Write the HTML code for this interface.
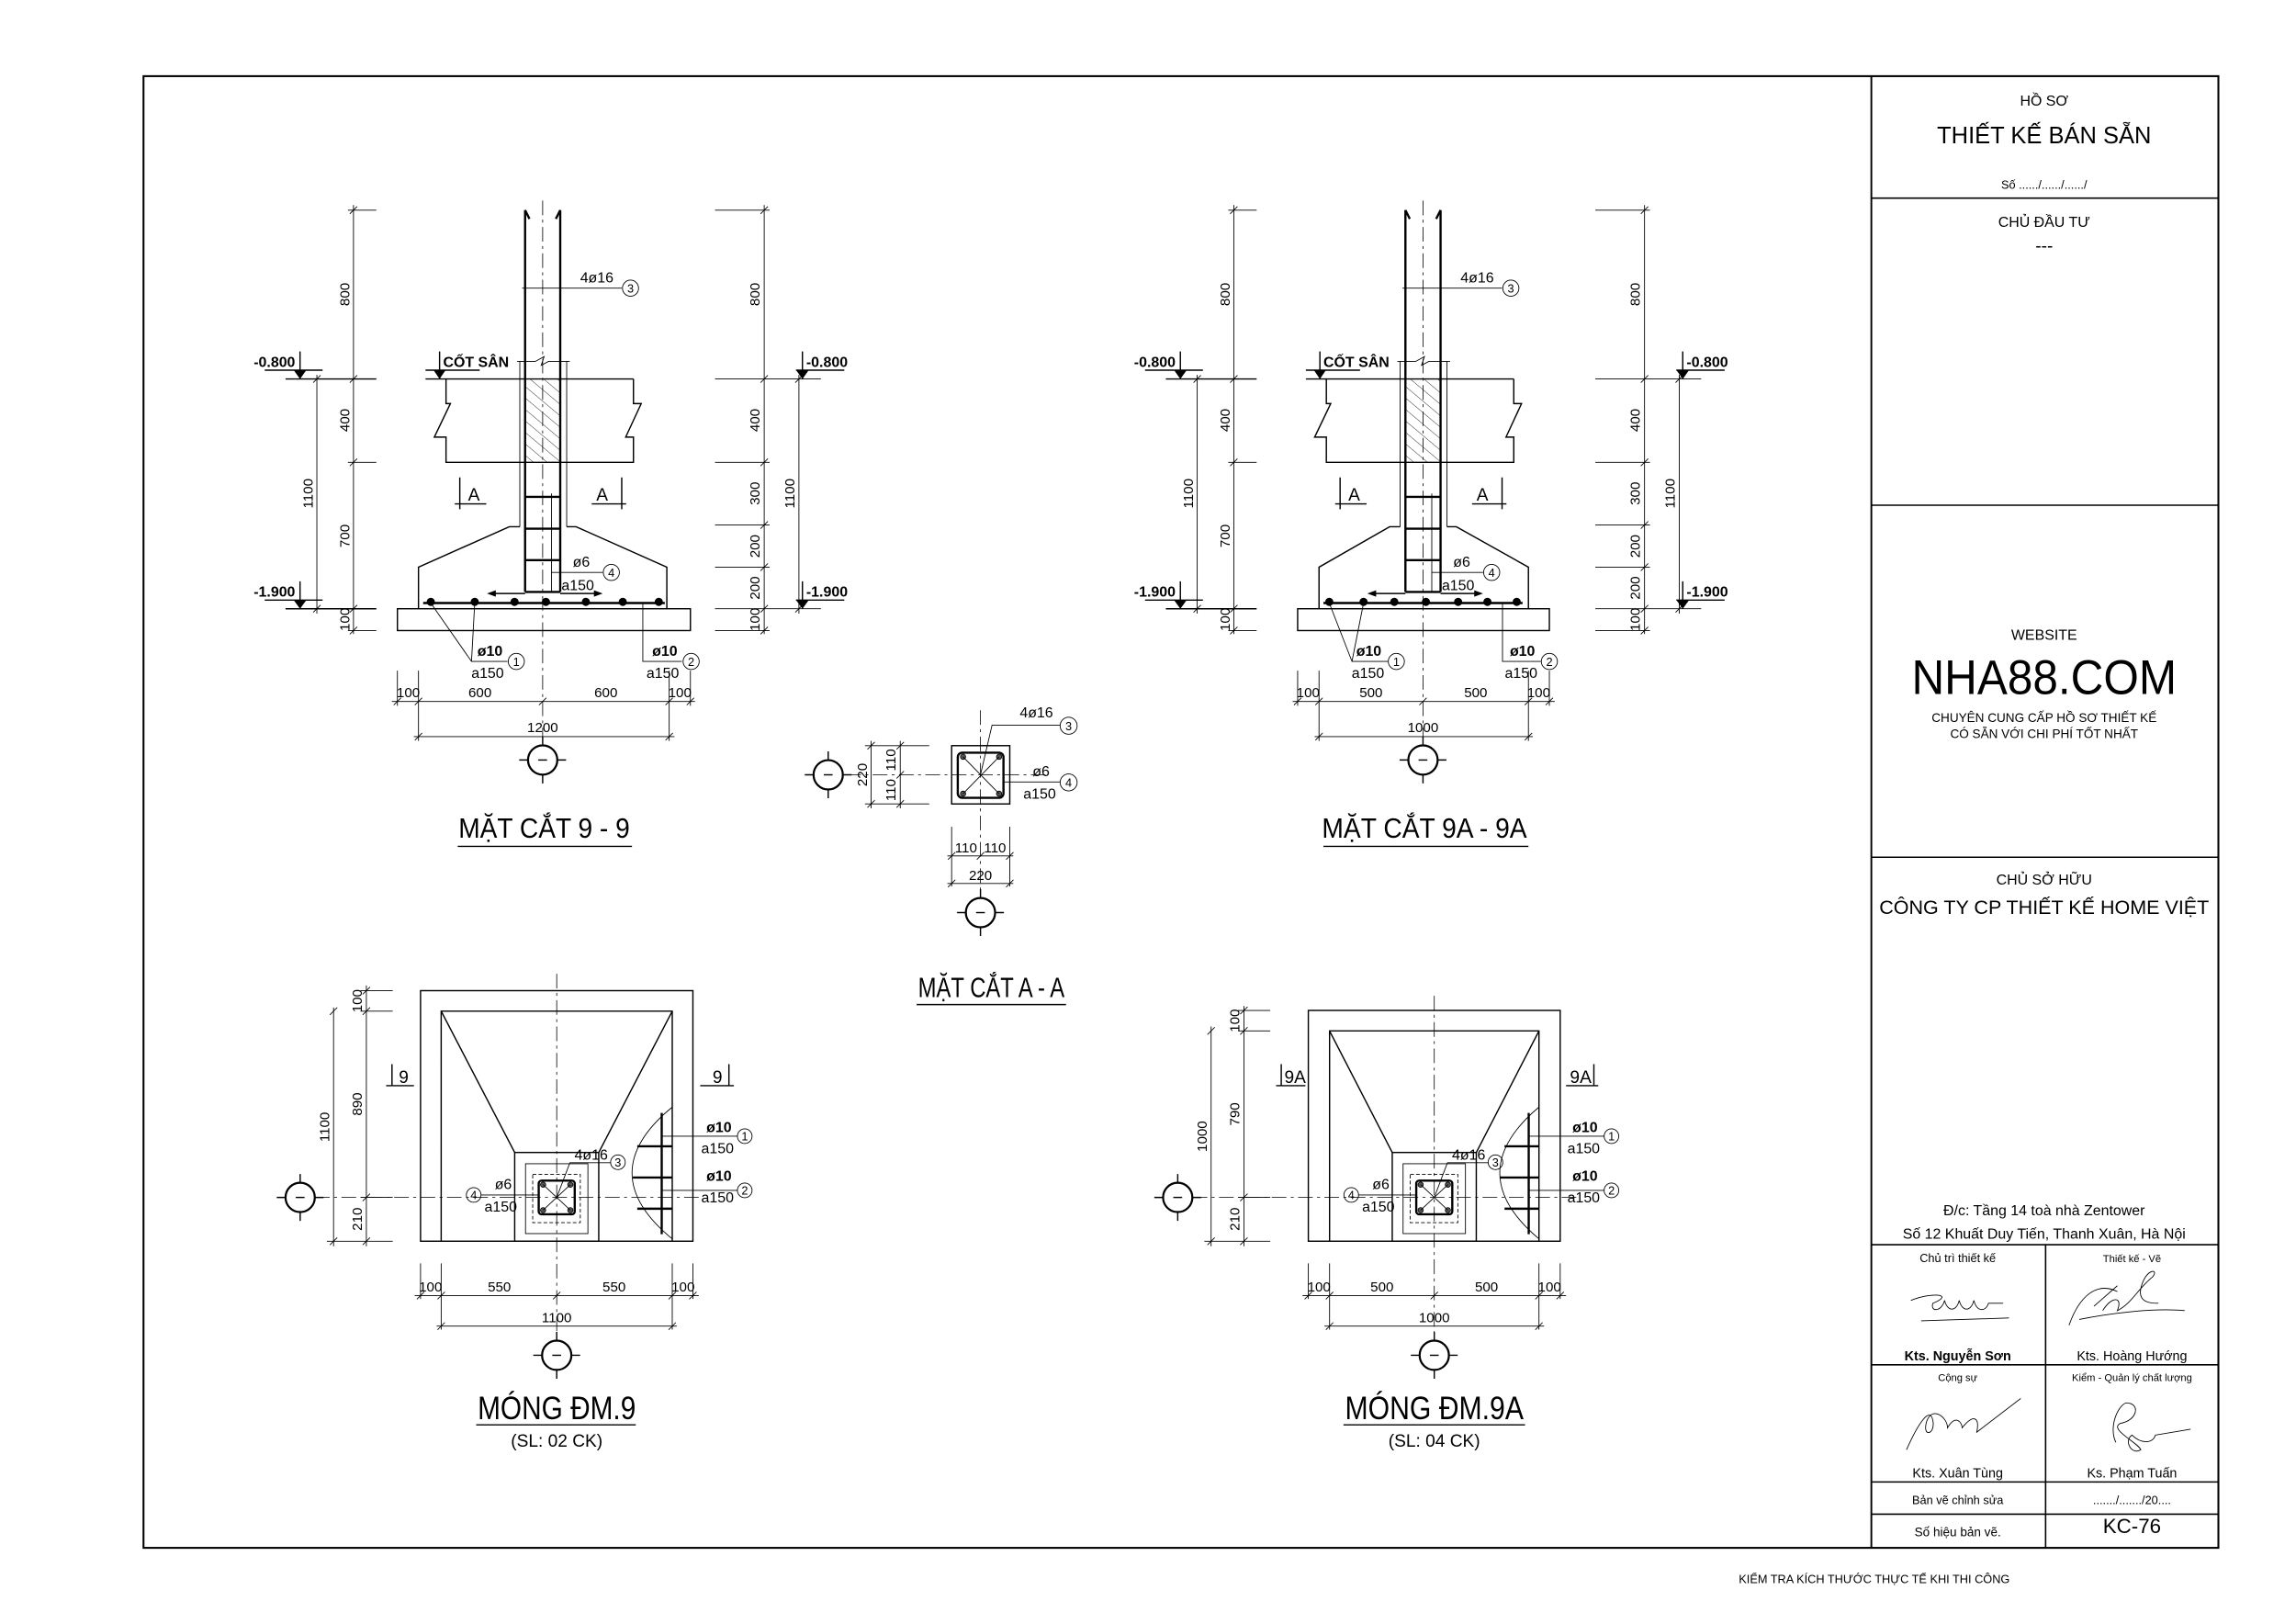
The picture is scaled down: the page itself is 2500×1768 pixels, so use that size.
<!DOCTYPE html>
<html><head><meta charset="utf-8">
<style>
html,body{margin:0;padding:0;background:#fff;}
svg{display:block;}
.k{stroke:#000;stroke-width:1.5;fill:none;}
.m{stroke:#000;stroke-width:0.9;fill:none;}
.t{stroke:#000;stroke-width:0.55;fill:none;}
.cl{stroke:#000;stroke-width:0.5;fill:none;stroke-dasharray:10 3 2 3;}
.n{font-family:"Liberation Sans Narrow","Liberation Sans",sans-serif;fill:#000;}
.s{font-family:"Liberation Sans","Noto Sans CJK SC",sans-serif;fill:#000;}
.d{font-size:9.5px;text-anchor:middle;}
</style></head><body>
<svg width="2500" height="1768" viewBox="0 0 1568 1109" preserveAspectRatio="none" xmlns="http://www.w3.org/2000/svg">
<defs>
<pattern id="hat" width="6" height="6" patternUnits="userSpaceOnUse" patternTransform="rotate(-50)">
<line x1="0" y1="0" x2="0" y2="6" stroke="#000" stroke-width="0.5"/></pattern>
<pattern id="dots" width="7" height="5" patternUnits="userSpaceOnUse">
<circle cx="1" cy="1" r="0.45" fill="#000"/><circle cx="4.5" cy="3.5" r="0.45" fill="#000"/><circle cx="6" cy="1.8" r="0.3" fill="#000"/></pattern>
<g id="axis"><circle cx="0" cy="0" r="10" stroke="#000" stroke-width="1.4" fill="#fff"/>
<path d="M-16,0 H-10 M10,0 H16 M0,-16 V-10 M0,10 V16" class="m"/><path d="M-3,0 H3" class="m"/></g>
<g id="tk"><path d="M-2.5,2.5 L2.5,-2.5" class="t"/></g>
<g id="sec">
<path d="M-12,143.5 V404.2 M12,143.5 V404.2" class="k"/>
<path d="M-12,143.5 l3,6 M12,143.5 l-3,6" class="k"/>
<rect x="-12" y="258.8" width="24" height="56.9" fill="url(#hat)"/>
<path d="M-15.6,246.8 V359.7 M16.4,246.8 V359.7" class="t"/>
<path d="M-17.5,246.8 H-5 L1,243.5 L-1,249.5 L4,246.8 H18.5" class="t"/>
<path d="M-80,258.8 H62 M-66,258.8 V275.6 H-63 L-74,298.5 H-66 V315.7 H62 V298.5 H56.7 L67.3,275.6 H62 V258.8" class="m"/>
<path d="M-56.6,326 V347.7 M-60,344.1 H-38.5 M54,326 V347.7 M33.5,344.1 H57" class="m"/>
<text x="-47" y="342" class="n" font-size="12" text-anchor="middle">A</text>
<text x="40.6" y="342" class="n" font-size="12" text-anchor="middle">A</text>
<path d="M-12,339.3 H12 M-12,361 H12 M-12,382.5 H12 M-12,404.2 H12" class="k"/>
<path d="M6,337 V404 M6,390.9 H41" class="t"/>
<circle cx="46.9" cy="390.9" r="5.5" class="t"/><text x="46.9" y="394" class="n" font-size="8" text-anchor="middle">4</text>
<text x="26.4" y="387" class="n" font-size="10" text-anchor="middle">ø6</text>
<text x="24" y="403" class="n" font-size="10" text-anchor="middle">a150</text>
<path d="M-12,405.3 H-35 M12,405.3 H38" class="m"/>
<path d="M-38,405.3 l6,-2.2 v4.4z M41,405.3 l-6,-2.2 v4.4z" fill="#000"/>
<path d="M-14,196.8 H54" class="t"/>
<circle cx="60" cy="196.8" r="5.5" class="t"/><text x="60" y="199.9" class="n" font-size="8" text-anchor="middle">3</text>
<text x="37" y="193" class="n" font-size="10" text-anchor="middle">4ø16</text>
<text x="-169" y="250.5" class="n" font-size="10" text-anchor="end" font-weight="bold">-0.800</text>
<path d="M-189.8,252.8 H-150.3 M-165.7,240 V258.8 M-175.6,258.8 H-113.6" class="m"/>
<path d="M-170,252.8 H-161.4 L-165.7,258.8z" fill="#000"/>
<text x="-169" y="407.5" class="n" font-size="10" text-anchor="end" font-weight="bold">-1.900</text>
<path d="M-189.8,409.8 H-150.3 M-165.7,397 V415.7 M-175.6,415.7 H-113.6" class="m"/>
<path d="M-170,409.8 H-161.4 L-165.7,415.7z" fill="#000"/>
<text x="-68" y="250.5" class="n" font-size="10" font-weight="bold">CỐT SÂN</text>
<path d="M-70.4,240 V258.8 M-80,252.8 H-43" class="m"/>
<path d="M-74.5,252.8 H-66.3 L-70.4,258.8z" fill="#000"/>
<path d="M-129.2,140 V433 M-133,143.5 H-113.6 M-133,315.7 H-113.6 M-133,430.6 H-113.6 M-154.2,256 V419" class="t"/>
<use href="#tk" x="-129.2" y="143.5"/><use href="#tk" x="-129.2" y="258.8"/><use href="#tk" x="-129.2" y="315.7"/><use href="#tk" x="-129.2" y="415.7"/><use href="#tk" x="-129.2" y="430.6"/>
<use href="#tk" x="-154.2" y="258.8"/><use href="#tk" x="-154.2" y="415.7"/>
<text transform="translate(-132,201) rotate(-90)" class="n d">800</text>
<text transform="translate(-132,287) rotate(-90)" class="n d">400</text>
<text transform="translate(-132,366) rotate(-90)" class="n d">700</text>
<text transform="translate(-132,423) rotate(-90)" class="n d">100</text>
<text transform="translate(-157,337) rotate(-90)" class="n d">1100</text>
<path d="M151.3,140 V433 M117.7,143.5 H155 M117.7,258.8 H190 M117.7,315.7 H155 M117.7,358.5 H155 M117.7,387.3 H155 M117.7,415.7 H190 M117.7,430.6 H155 M175,256 V419" class="t"/>
<use href="#tk" x="151.3" y="143.5"/><use href="#tk" x="151.3" y="258.8"/><use href="#tk" x="151.3" y="315.7"/><use href="#tk" x="151.3" y="358.5"/><use href="#tk" x="151.3" y="387.3"/><use href="#tk" x="151.3" y="415.7"/><use href="#tk" x="151.3" y="430.6"/>
<use href="#tk" x="175" y="258.8"/><use href="#tk" x="175" y="415.7"/>
<text transform="translate(148,201) rotate(-90)" class="n d">800</text>
<text transform="translate(148,287) rotate(-90)" class="n d">400</text>
<text transform="translate(148,337) rotate(-90)" class="n d">300</text>
<text transform="translate(148,373) rotate(-90)" class="n d">200</text>
<text transform="translate(148,401.5) rotate(-90)" class="n d">200</text>
<text transform="translate(148,423) rotate(-90)" class="n d">100</text>
<text transform="translate(172,337) rotate(-90)" class="n d">1100</text>
<text x="180" y="250.5" class="n" font-size="10" font-weight="bold">-0.800</text>
<path d="M173,252.8 H206 M177.4,240 V258.8" class="m"/>
<path d="M173.1,252.8 H181.7 L177.4,258.8z" fill="#000"/>
<text x="180" y="407.5" class="n" font-size="10" font-weight="bold">-1.900</text>
<path d="M173,409.8 H206 M177.4,397 V415.7" class="m"/>
<path d="M173.1,409.8 H181.7 L177.4,415.7z" fill="#000"/>
<line x1="0" y1="137" x2="0" y2="505" class="cl"/>
<use href="#axis" x="0" y="519"/>
</g>
</defs>
<rect width="1568" height="1109" fill="#fff"/>
<rect x="98" y="52" width="1417" height="1005" fill="none" stroke="#000" stroke-width="1.3"/>
<line x1="1278" y1="52" x2="1278" y2="1057" stroke="#000" stroke-width="1.2"/>
<path d="M1278,135.3 H1515 M1278,345 H1515 M1278,585.4 H1515 M1278,850 H1515 M1278,932 H1515 M1278,1012 H1515 M1278,1034 H1515 M1397,850 V1057" stroke="#000" stroke-width="1" fill="none"/>
<g class="s" text-anchor="middle">
<text x="1396" y="72" font-size="10">HỒ SƠ</text>
<text x="1396" y="98" font-size="16">THIẾT KẾ BÁN SẴN</text>
<text x="1396" y="129" font-size="8">Số ....../....../....../</text>
<text x="1396" y="155" font-size="10">CHỦ ĐẦU TƯ</text>
<text x="1396" y="172" font-size="12">---</text>
<text x="1396" y="437" font-size="10">WEBSITE</text>
<text x="1396" y="474" font-size="33" textLength="181" lengthAdjust="spacingAndGlyphs">NHA88.COM</text>
<text x="1396" y="493" font-size="8.5">CHUYÊN CUNG CẤP HỒ SƠ THIẾT KẾ</text>
<text x="1396" y="504" font-size="8.5">CÓ SẴN VỚI CHI PHÍ TỐT NHẤT</text>
<text x="1396" y="604" font-size="10">CHỦ SỞ HỮU</text>
<text x="1396" y="624" font-size="13.5">CÔNG TY CP THIẾT KẾ HOME VIỆT</text>
<text x="1396" y="830" font-size="10">Đ/c: Tầng 14 toà nhà Zentower</text>
<text x="1396" y="846" font-size="10">Số 12 Khuất Duy Tiến, Thanh Xuân, Hà Nội</text>
<text x="1337" y="862" font-size="8">Chủ trì thiết kế</text>
<text x="1456" y="862" font-size="7">Thiết kế - Vẽ</text>
<text x="1337" y="929" font-size="9" font-weight="bold">Kts. Nguyễn Sơn</text>
<text x="1456" y="929" font-size="9">Kts. Hoàng Hướng</text>
<text x="1337" y="943" font-size="7">Cộng sự</text>
<text x="1456" y="943" font-size="7">Kiểm - Quản lý chất lượng</text>
<text x="1337" y="1009" font-size="9">Kts. Xuân Tùng</text>
<text x="1456" y="1009" font-size="9">Ks. Phạm Tuấn</text>
<text x="1337" y="1027" font-size="8">Bản vẽ chỉnh sửa</text>
<text x="1456" y="1027" font-size="8">......./......./20....</text>
<text x="1337" y="1049" font-size="8.5">Số hiệu bản vẽ.</text>
<text x="1456" y="1047" font-size="14">KC-76</text>
<text x="1280" y="1081" font-size="8">KIỂM TRA KÍCH THƯỚC THỰC TẾ KHI THI CÔNG</text>
</g>
<path d="M1305,888 C1320,882 1335,884 1320,890 C1318,896 1326,896 1328,888 C1330,896 1336,896 1338,888 C1340,896 1346,896 1348,888 C1350,896 1356,896 1358,890 H1368 M1312,902 L1372,900" class="t" stroke-width="0.8"/>
<path d="M1413,905 C1420,885 1432,875 1446,882 M1430,892 L1446,878 M1436,895 C1442,885 1450,885 1446,895 C1456,890 1460,880 1470,872 C1475,866 1465,866 1462,880 C1460,890 1470,890 1474,890 M1420,901 C1440,897 1470,893 1492,895" class="t" stroke-width="0.8"/>
<path d="M1302,990 C1310,972 1318,960 1320,970 C1322,980 1312,982 1316,970 C1320,960 1330,968 1330,975 C1336,965 1340,972 1340,975 C1348,965 1352,968 1350,978 L1380,955" class="t" stroke-width="0.8"/>
<path d="M1445,985 C1440,975 1446,960 1452,958 C1462,958 1460,970 1448,972 C1440,976 1460,985 1462,990 C1456,994 1450,984 1456,980 C1462,986 1470,986 1472,980 L1496,976" class="t" stroke-width="0.8"/>

<g transform="translate(370.6,0)">
<use href="#sec"/>
<path d="M-15.6,359.7 H-22.8 L-84.8,387.3 V415.7 M16.4,359.7 H22.8 L84.8,387.3 V415.7" class="m"/>
<rect x="-99.2" y="415.7" width="200.1" height="14.9" fill="url(#dots)" class="m"/>
<path d="M-81.6,411.8 H83.4" class="k"/>
<g fill="#000"><circle cx="-76.4" cy="411" r="2.8"/><circle cx="-46.4" cy="411" r="2.8"/><circle cx="-19.2" cy="411" r="2.8"/><circle cx="2.2" cy="411" r="2.8"/><circle cx="29.5" cy="411" r="2.8"/><circle cx="54.7" cy="411" r="2.8"/><circle cx="79.3" cy="411" r="2.8"/></g>
<path d="M-76.4,411.8 L-48.6,451.7 H-24 M-46.4,411.8 L-48.6,451.7" class="t"/>
<circle cx="-18" cy="451.7" r="5.5" class="t"/><text x="-18" y="454.8" class="n" font-size="8" text-anchor="middle">1</text>
<text x="-36" y="448" class="n" font-size="10" text-anchor="middle" font-weight="bold">ø10</text>
<text x="-37.6" y="463" class="n" font-size="10" text-anchor="middle">a150</text>
<path d="M68.4,411.8 V451.7 H95" class="t"/>
<circle cx="101.4" cy="451.7" r="5.5" class="t"/><text x="101.4" y="454.8" class="n" font-size="8" text-anchor="middle">2</text>
<text x="83.4" y="448" class="n" font-size="10" text-anchor="middle" font-weight="bold">ø10</text>
<text x="82" y="463" class="n" font-size="10" text-anchor="middle">a150</text>
<path d="M-99.2,458 V482 M-84.8,458 V506 M100.9,458 V482 M86.4,458 V506 M-103,479 H104 M-88,503 H90" class="t"/>
<use href="#tk" x="-99.2" y="479"/><use href="#tk" x="-84.8" y="479"/><use href="#tk" x="0" y="479"/><use href="#tk" x="86.4" y="479"/><use href="#tk" x="100.9" y="479"/><use href="#tk" x="-84.8" y="503"/><use href="#tk" x="86.4" y="503"/>
<text x="-91.8" y="476" class="n d">100</text><text x="-42.8" y="476" class="n d">600</text><text x="43.2" y="476" class="n d">600</text><text x="93.7" y="476" class="n d">100</text>
<text x="0" y="500" class="n d">1200</text>
<text x="1" y="572" class="n" font-size="19" text-anchor="middle" textLength="117" lengthAdjust="spacingAndGlyphs">MẶT CẮT 9 - 9</text>
<path d="M-58,578 H61" class="m"/>
</g>

<g transform="translate(971.8,0)">
<use href="#sec"/>
<path d="M-15.6,359.7 H-22.8 L-71,387.3 V415.7 M16.4,359.7 H22.8 L72,387.3 V415.7" class="m"/>
<rect x="-85.6" y="415.7" width="171.9" height="14.9" fill="url(#dots)" class="m"/>
<path d="M-68,411.8 H68" class="k"/>
<g fill="#000"><circle cx="-64" cy="411" r="2.8"/><circle cx="-40.6" cy="411" r="2.8"/><circle cx="-19.6" cy="411" r="2.8"/><circle cx="2" cy="411" r="2.8"/><circle cx="24" cy="411" r="2.8"/><circle cx="44" cy="411" r="2.8"/><circle cx="64" cy="411" r="2.8"/></g>
<path d="M-64,411.8 L-48.5,451.7 H-24 M-40.6,411.8 L-48.5,451.7" class="t"/>
<circle cx="-18.2" cy="451.7" r="5.5" class="t"/><text x="-18.2" y="454.8" class="n" font-size="8" text-anchor="middle">1</text>
<text x="-37" y="448" class="n" font-size="10" text-anchor="middle" font-weight="bold">ø10</text>
<text x="-37.6" y="463" class="n" font-size="10" text-anchor="middle">a150</text>
<path d="M54.3,411.8 V451.7 H80.5" class="t"/>
<circle cx="86.3" cy="451.7" r="5.5" class="t"/><text x="86.3" y="454.8" class="n" font-size="8" text-anchor="middle">2</text>
<text x="67.9" y="448" class="n" font-size="10" text-anchor="middle" font-weight="bold">ø10</text>
<text x="67" y="463" class="n" font-size="10" text-anchor="middle">a150</text>
<path d="M-85.6,458 V482 M-71,458 V506 M86.3,458 V482 M72,458 V506 M-89,479 H90 M-74,503 H75" class="t"/>
<use href="#tk" x="-85.6" y="479"/><use href="#tk" x="-71" y="479"/><use href="#tk" x="0" y="479"/><use href="#tk" x="72" y="479"/><use href="#tk" x="86.3" y="479"/><use href="#tk" x="-71" y="503"/><use href="#tk" x="72" y="503"/>
<text x="-78.5" y="476" class="n d">100</text><text x="-35.5" y="476" class="n d">500</text><text x="36" y="476" class="n d">500</text><text x="79" y="476" class="n d">100</text>
<text x="0" y="500" class="n d">1000</text>
<text x="1" y="572" class="n" font-size="19" text-anchor="middle" textLength="140" lengthAdjust="spacingAndGlyphs">MẶT CẮT 9A - 9A</text>
<path d="M-68,578 H72" class="m"/>
</g>

<g>
<rect x="649.9" y="509.2" width="39.7" height="39.8" class="m"/>
<rect x="654.1" y="514" width="31.2" height="30.8" rx="3" class="k"/>
<g fill="#555" stroke="#000" stroke-width="0.5"><circle cx="657.7" cy="516.8" r="1.8"/><circle cx="682.3" cy="516.8" r="1.8"/><circle cx="657.7" cy="542" r="1.8"/><circle cx="682.3" cy="542" r="1.8"/></g>
<path d="M657.7,516.8 L682.3,542 M682.3,516.8 L657.7,542" class="t"/>
<line x1="669.6" y1="485" x2="669.6" y2="612" class="cl"/>
<line x1="578" y1="529.1" x2="717" y2="529.1" class="cl"/>
<use href="#axis" x="565.6" y="529.1"/>
<use href="#axis" x="669.6" y="623.2"/>
<path d="M590.7,509.2 H634.6 M590.7,549 H634.6 M594.9,506 V552 M614.8,506 V552" class="t"/>
<use href="#tk" x="594.9" y="509.2"/><use href="#tk" x="594.9" y="549"/><use href="#tk" x="614.8" y="509.2"/><use href="#tk" x="614.8" y="529.1"/><use href="#tk" x="614.8" y="549"/>
<text transform="translate(592,529.1) rotate(-90)" class="n d">220</text>
<text transform="translate(611.5,519) rotate(-90)" class="n d">110</text>
<text transform="translate(611.5,539.5) rotate(-90)" class="n d">110</text>
<path d="M669.6,529.1 L677.5,495.2 H724" class="t"/>
<circle cx="729.8" cy="495.6" r="5.8" class="t"/><text x="729.8" y="498.7" class="n" font-size="8" text-anchor="middle">3</text>
<text x="707.8" y="490" class="n" font-size="10" text-anchor="middle">4ø16</text>
<path d="M685.9,534 H724" class="t"/>
<circle cx="729.8" cy="534.3" r="5.8" class="t"/><text x="729.8" y="537.4" class="n" font-size="8" text-anchor="middle">4</text>
<text x="711" y="530" class="n" font-size="10" text-anchor="middle">ø6</text>
<text x="710" y="545.5" class="n" font-size="10" text-anchor="middle">a150</text>
<path d="M649.9,564.6 V605.4 M689.6,564.6 V605.4 M647,584.5 H692 M647,603.3 H692" class="t"/>
<use href="#tk" x="649.9" y="584.5"/><use href="#tk" x="669.6" y="584.5"/><use href="#tk" x="689.6" y="584.5"/><use href="#tk" x="649.9" y="603.3"/><use href="#tk" x="689.6" y="603.3"/>
<text x="659.7" y="582" class="n d">110</text><text x="679.5" y="582" class="n d">110</text>
<text x="669.6" y="601" class="n d">220</text>
<text x="677" y="681" class="n" font-size="19" text-anchor="middle" textLength="100" lengthAdjust="spacingAndGlyphs">MẶT CẮT A - A</text>
<path d="M626,686 H728" class="m"/>
</g>

<g transform="translate(380.2,0)">
<line x1="0" y1="665" x2="0" y2="912" class="cl"/>
<line x1="-165" y1="817.7" x2="100" y2="817.7" class="cl"/>
<rect x="-93" y="676.5" width="186" height="171.1" class="m"/>
<path d="M-78.9,847.6 V690.5 H78.9 V847.6 M-78.9,690.5 L-28.7,787 M78.9,690.5 L28.7,787" class="m"/>
<rect x="-28.7" y="787" width="57.4" height="60.6" class="m"/>
<rect x="-21.3" y="794.7" width="42.6" height="47.7" class="t"/>
<rect x="-16.4" y="802" width="32.5" height="32.9" class="t" stroke-dasharray="2.5 1.5"/>
<rect x="-12.3" y="806.2" width="24.6" height="23" rx="2" class="k"/>
<g fill="#555" stroke="#000" stroke-width="0.5"><circle cx="-9.3" cy="809" r="1.8"/><circle cx="9.3" cy="809" r="1.8"/><circle cx="-9.3" cy="826.4" r="1.8"/><circle cx="9.3" cy="826.4" r="1.8"/></g>
<path d="M-9.3,809 L9.3,826.4 M9.3,809 L-9.3,826.4" class="t"/>
<path d="M78.9,756 Q24,801 78.9,846" class="t"/>
<path d="M71.7,760 V842.8" class="k"/>
<path d="M55,782.8 H78.9 M52,804.1 H78.9 M55,825.4 H78.9" class="k" stroke-width="1.2"/>
<path d="M71.7,775.9 H123.4 M71.7,812.9 H123.4" class="t"/>
<circle cx="128.4" cy="775.9" r="5" class="t"/><text x="128.4" y="778.9" class="n" font-size="8" text-anchor="middle">1</text>
<circle cx="128.4" cy="812.9" r="5" class="t"/><text x="128.4" y="815.9" class="n" font-size="8" text-anchor="middle">2</text>
<text x="110.8" y="773" class="n" font-size="10" text-anchor="middle" font-weight="bold">ø10</text>
<text x="109.8" y="787.5" class="n" font-size="10" text-anchor="middle">a150</text>
<text x="110.8" y="806.5" class="n" font-size="10" text-anchor="middle" font-weight="bold">ø10</text>
<text x="109.8" y="821" class="n" font-size="10" text-anchor="middle">a150</text>
<path d="M0,817.7 L9,794 H36.8" class="t"/>
<circle cx="41.8" cy="793.7" r="5" class="t"/><text x="41.8" y="796.7" class="n" font-size="8" text-anchor="middle">3</text>
<text x="23.5" y="792" class="n" font-size="10" text-anchor="middle">4ø16</text>
<path d="M-51.7,816 H-12.3" class="t"/>
<circle cx="-56.7" cy="816" r="5" class="t"/><text x="-56.7" y="819" class="n" font-size="8" text-anchor="middle">4</text>
<text x="-36.5" y="812" class="n" font-size="10" text-anchor="middle">ø6</text>
<text x="-38.2" y="827.5" class="n" font-size="10" text-anchor="middle">a150</text>
<path d="M-112.5,726.7 V741.4 M-116.5,741.4 H-97.5 M117.6,726.7 V741.4 M98,741.4 H121" class="m"/>
<text x="-104.5" y="739.5" class="n" font-size="12" text-anchor="middle">9</text>
<text x="109.8" y="739.5" class="n" font-size="12" text-anchor="middle">9</text>
<path d="M-134,676.5 H-112 M-134,690.5 H-112 M-134,817.7 H-112 M-157,847.6 H-112 M-130,673 V851 M-152.4,688 V851" class="t"/>
<use href="#tk" x="-130" y="676.5"/><use href="#tk" x="-130" y="690.5"/><use href="#tk" x="-130" y="817.7"/><use href="#tk" x="-130" y="847.6"/><use href="#tk" x="-152.4" y="690.5"/><use href="#tk" x="-152.4" y="847.6"/>
<text transform="translate(-133,683.5) rotate(-90)" class="n d">100</text>
<text transform="translate(-133,754) rotate(-90)" class="n d">890</text>
<text transform="translate(-133,832.5) rotate(-90)" class="n d">210</text>
<text transform="translate(-155.5,769.6) rotate(-90)" class="n d">1100</text>
<use href="#axis" x="-175.2" y="817.7"/>
<path d="M-93,862.7 V887 M-78.9,862.7 V908 M93,862.7 V887 M78.9,862.7 V908 M-97,884.7 H97 M-82,905.6 H82" class="t"/>
<use href="#tk" x="-93" y="884.7"/><use href="#tk" x="-78.9" y="884.7"/><use href="#tk" x="0" y="884.7"/><use href="#tk" x="78.9" y="884.7"/><use href="#tk" x="93" y="884.7"/><use href="#tk" x="-78.9" y="905.6"/><use href="#tk" x="78.9" y="905.6"/>
<text x="-86.2" y="882" class="n d">100</text><text x="-39.2" y="882" class="n d">550</text><text x="39.2" y="882" class="n d">550</text><text x="86.3" y="882" class="n d">100</text>
<text x="0" y="903" class="n d">1100</text>
<use href="#axis" x="0" y="925.5"/>
<text x="0" y="969" class="n" font-size="22" text-anchor="middle" textLength="108" lengthAdjust="spacingAndGlyphs">MÓNG ĐM.9</text>
<path d="M-55,973 H54" class="m"/>
<text x="0" y="988" class="n" font-size="12" text-anchor="middle">(SL: 02 CK)</text>
</g>

<g transform="translate(979.5,0)">
<line x1="0" y1="680" x2="0" y2="912" class="cl"/>
<line x1="-165" y1="817.7" x2="100" y2="817.7" class="cl"/>
<rect x="-86" y="690" width="172" height="157.6" class="m"/>
<path d="M-71.5,847.6 V704 H71.5 V847.6 M-71.5,704 L-28.7,787 M71.5,704 L28.7,787" class="m"/>
<rect x="-28.7" y="787" width="57.4" height="60.6" class="m"/>
<rect x="-21.3" y="794.7" width="42.6" height="47.7" class="t"/>
<rect x="-16.4" y="802" width="32.5" height="32.9" class="t" stroke-dasharray="2.5 1.5"/>
<rect x="-12.3" y="806.2" width="24.6" height="23" rx="2" class="k"/>
<g fill="#555" stroke="#000" stroke-width="0.5"><circle cx="-9.3" cy="809" r="1.8"/><circle cx="9.3" cy="809" r="1.8"/><circle cx="-9.3" cy="826.4" r="1.8"/><circle cx="9.3" cy="826.4" r="1.8"/></g>
<path d="M-9.3,809 L9.3,826.4 M9.3,809 L-9.3,826.4" class="t"/>
<path d="M71.5,756 Q18,801 71.5,846" class="t"/>
<path d="M64.5,760 V842.8" class="k"/>
<path d="M48,782.8 H71.5 M45,804.1 H71.5 M48,825.4 H71.5" class="k" stroke-width="1.2"/>
<path d="M64.5,775.9 H116 M64.5,812.9 H116" class="t"/>
<circle cx="121" cy="775.9" r="5" class="t"/><text x="121" y="778.9" class="n" font-size="8" text-anchor="middle">1</text>
<circle cx="121" cy="812.9" r="5" class="t"/><text x="121" y="815.9" class="n" font-size="8" text-anchor="middle">2</text>
<text x="103" y="773" class="n" font-size="10" text-anchor="middle" font-weight="bold">ø10</text>
<text x="102" y="787.5" class="n" font-size="10" text-anchor="middle">a150</text>
<text x="103" y="806.5" class="n" font-size="10" text-anchor="middle" font-weight="bold">ø10</text>
<text x="102" y="821" class="n" font-size="10" text-anchor="middle">a150</text>
<path d="M0,817.7 L9,794 H36.8" class="t"/>
<circle cx="41.8" cy="793.7" r="5" class="t"/><text x="41.8" y="796.7" class="n" font-size="8" text-anchor="middle">3</text>
<text x="23.5" y="792" class="n" font-size="10" text-anchor="middle">4ø16</text>
<path d="M-51.7,816 H-12.3" class="t"/>
<circle cx="-56.7" cy="816" r="5" class="t"/><text x="-56.7" y="819" class="n" font-size="8" text-anchor="middle">4</text>
<text x="-36.5" y="812" class="n" font-size="10" text-anchor="middle">ø6</text>
<text x="-38.2" y="827.5" class="n" font-size="10" text-anchor="middle">a150</text>
<path d="M-104.5,726.7 V741.4 M-108,741.4 H-88 M109,726.7 V741.4 M90,741.4 H112" class="m"/>
<text x="-95" y="739.5" class="n" font-size="12" text-anchor="middle">9A</text>
<text x="100" y="739.5" class="n" font-size="12" text-anchor="middle">9A</text>
<path d="M-134,690 H-112 M-134,704 H-112 M-134,817.7 H-112 M-157,847.6 H-112 M-130,687 V851 M-152.4,701 V851" class="t"/>
<use href="#tk" x="-130" y="690"/><use href="#tk" x="-130" y="704"/><use href="#tk" x="-130" y="817.7"/><use href="#tk" x="-130" y="847.6"/><use href="#tk" x="-152.4" y="704"/><use href="#tk" x="-152.4" y="847.6"/>
<text transform="translate(-133,697) rotate(-90)" class="n d">100</text>
<text transform="translate(-133,760.8) rotate(-90)" class="n d">790</text>
<text transform="translate(-133,832.5) rotate(-90)" class="n d">210</text>
<text transform="translate(-155.5,776) rotate(-90)" class="n d">1000</text>
<use href="#axis" x="-175.2" y="817.7"/>
<path d="M-86,862.7 V887 M-71.5,862.7 V908 M86,862.7 V887 M71.5,862.7 V908 M-90,884.7 H90 M-75,905.6 H75" class="t"/>
<use href="#tk" x="-86" y="884.7"/><use href="#tk" x="-71.5" y="884.7"/><use href="#tk" x="0" y="884.7"/><use href="#tk" x="71.5" y="884.7"/><use href="#tk" x="86" y="884.7"/><use href="#tk" x="-71.5" y="905.6"/><use href="#tk" x="71.5" y="905.6"/>
<text x="-78.7" y="882" class="n d">100</text><text x="-35.7" y="882" class="n d">500</text><text x="35.7" y="882" class="n d">500</text><text x="78.7" y="882" class="n d">100</text>
<text x="0" y="903" class="n d">1000</text>
<use href="#axis" x="0" y="925.5"/>
<text x="0" y="969" class="n" font-size="22" text-anchor="middle" textLength="122" lengthAdjust="spacingAndGlyphs">MÓNG ĐM.9A</text>
<path d="M-62,973 H62" class="m"/>
<text x="0" y="988" class="n" font-size="12" text-anchor="middle">(SL: 04 CK)</text>
</g>
</svg>
</body></html>
